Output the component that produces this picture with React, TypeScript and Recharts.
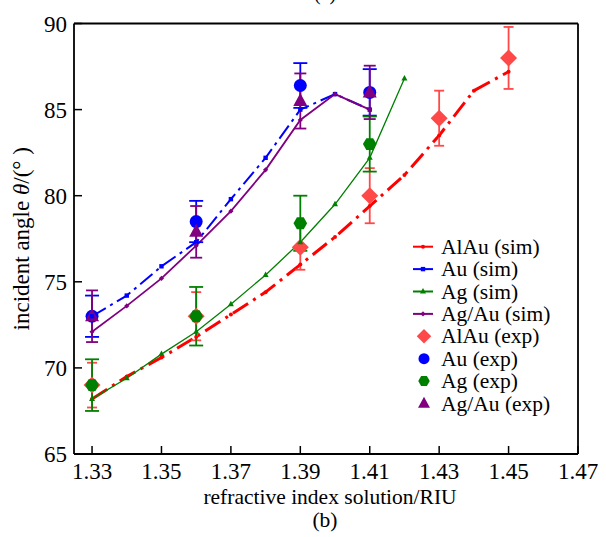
import React from 'react';
import { ComposedChart, Line, Scatter, ErrorBar, XAxis, YAxis, Legend, ReferenceLine } from 'recharts';

// refractive index steps for the simulated curves
const riuAlAuSim = [1.33, 1.34, 1.35, 1.36, 1.37, 1.38, 1.39, 1.4, 1.41, 1.42, 1.43, 1.44, 1.45];
const alAuSim = [68.2, 69.5, 70.6, 71.8, 73.1, 74.4, 76.0, 77.6, 79.4, 81.2, 83.5, 86.1, 87.2];
const riuAuSim = [1.33, 1.34, 1.35, 1.36, 1.37, 1.38, 1.39, 1.4, 1.41];
const auSim = [73.0, 74.2, 75.9, 77.3, 79.8, 82.2, 85.0, 85.9, 85.0];
const riuAgSim = [1.33, 1.34, 1.35, 1.36, 1.37, 1.38, 1.39, 1.4, 1.41, 1.42];
const agSim = [68.2, 69.4, 70.8, 72.1, 73.7, 75.4, 77.3, 79.5, 82.2, 86.8];
const riuAgAuSim = [1.33, 1.34, 1.35, 1.36, 1.37, 1.38, 1.39, 1.4, 1.41];
const agAuSim = [72.1, 73.6, 75.2, 77.1, 79.1, 81.5, 84.4, 85.9, 85.0];

// experimental points with error
const riuAlAuExp = [1.33, 1.36, 1.39, 1.41, 1.43, 1.45];
const alAuExp = [69.0, 73.0, 77.0, 80.0, 84.5, 88.0];
const alAuErr = [1.3, 1.4, 1.3, 1.6, 1.6, 1.8];
const riuExp = [1.33, 1.36, 1.39, 1.41];
const auExp = [73.0, 78.5, 86.4, 86.0];
const auErr = [1.2, 1.2, 1.3, 1.35];
const agExp = [69.0, 73.0, 78.4, 83.0];
const agErr = [1.5, 1.7, 1.6, 1.6];
const agAuExp = [73.0, 77.9, 85.5, 86.0];
const agAuErr = [1.5, 1.5, 1.6, 1.55];

const xTicks = [1.33, 1.35, 1.37, 1.39, 1.41, 1.43, 1.45, 1.47];
const yTicks = [65, 70, 75, 80, 85, 90];

const FONT = '"Liberation Serif", "Times New Roman", serif';
const textStyle = { fontFamily: FONT };

const toRows = (xs: number[], ys: number[], errs?: number[]) =>
    xs.map((x, i) => ({ x, y: ys[i], err: errs ? errs[i] : 0 }));

// --- small markers on the sim lines ---
function SmallMarker({ kind, cx, cy, color }: any) {
    if (cx == null || cy == null) return null;
    if (kind === 'square') return <rect x={cx - 2.2} y={cy - 2.2} width={4.4} height={4.4} fill={color} />;
    if (kind === 'tri') return <polygon points={`${cx},${cy - 3.5} ${cx + 3},${cy + 2} ${cx - 3},${cy + 2}`} fill={color} />;
    if (kind === 'diamond') return <polygon points={`${cx},${cy - 2.6} ${cx + 2.6},${cy} ${cx},${cy + 2.6} ${cx - 2.6},${cy}`} fill={color} />;
    return <circle cx={cx} cy={cy} r={2} fill={color} />;
}

// --- big markers for experimental points ---
function BigMarker({ kind, cx, cy, color }: any) {
    if (cx == null || cy == null) return null;
    if (kind === 'diamond') {
        const r = 8.5;
        return <polygon points={`${cx},${cy - r} ${cx + r},${cy} ${cx},${cy + r} ${cx - r},${cy}`} fill={color} />;
    }
    if (kind === 'hex') {
        const r = 6.8;
        const pts = [0, 1, 2, 3, 4, 5].map(k => {
            const a = (Math.PI / 3) * k;
            return `${cx + r * Math.cos(a)},${cy + r * Math.sin(a)}`;
        }).join(' ');
        return <polygon points={pts} fill={color} />;
    }
    if (kind === 'tri') return <polygon points={`${cx},${cy - 8} ${cx + 7},${cy + 5} ${cx - 7},${cy + 5}`} fill={color} />;
    return <circle cx={cx} cy={cy} r={6.5} fill={color} />;
}

const simSeries = [
    { name: 'AlAu (sim)', color: '#ff0000', dash: '18 6 3 6', width: 3, marker: 'dot', data: toRows(riuAlAuSim, alAuSim) },
    { name: 'Au (sim)', color: '#0000ff', dash: '16 5 3 5', width: 2, marker: 'square', data: toRows(riuAuSim, auSim) },
    { name: 'Ag (sim)', color: '#008000', dash: undefined, width: 1.3, marker: 'tri', data: toRows(riuAgSim, agSim) },
    { name: 'Ag/Au (sim)', color: '#800080', dash: undefined, width: 1.8, marker: 'diamond', data: toRows(riuAgAuSim, agAuSim) },
];

const expSeries = [
    { name: 'AlAu (exp)', color: '#ff4848', cap: 5, marker: 'diamond', data: toRows(riuAlAuExp, alAuExp, alAuErr) },
    { name: 'Au (exp)', color: '#0000ff', cap: 7, marker: 'circle', data: toRows(riuExp, auExp, auErr) },
    { name: 'Ag (exp)', color: '#008000', cap: 7, marker: 'hex', data: toRows(riuExp, agExp, agErr) },
    { name: 'Ag/Au (exp)', color: '#800080', cap: 6, marker: 'tri', data: toRows(riuExp, agAuExp, agAuErr) },
];

function XTick({ x, y, payload }: any) {
    return (
        <g>
            <line x1={x} y1={y} x2={x} y2={y - 8} stroke="#000" strokeWidth={1.5} />
            <text x={x} y={y + 25} textAnchor="middle" fontSize={23} style={textStyle} fill="#000">
                {Number(payload.value).toFixed(2)}
            </text>
        </g>
    );
}

function YTick({ x, y, payload }: any) {
    return (
        <g>
            <line x1={x} y1={y} x2={x + 8} y2={y} stroke="#000" strokeWidth={1.5} />
            <text x={x - 7} y={y + 8} textAnchor="end" fontSize={23} style={textStyle} fill="#000">
                {payload.value}
            </text>
        </g>
    );
}

function LegendBox() {
    const rows = [...simSeries.map(s => ({ ...s, sim: true })), ...expSeries.map(s => ({ ...s, sim: false }))];
    return (
        <svg width={170} height={190} style={{ overflow: 'visible' }}>
            {rows.map((r: any, i) => {
                const cy = 14.7 + i * 22.4;
                return (
                    <g key={r.name}>
                        {r.sim ? (
                            <g>
                                <line x1={8} y1={cy} x2={28} y2={cy} stroke={r.color} strokeWidth={2} />
                                <SmallMarker kind={r.marker} cx={18} cy={cy} color={r.color} />
                            </g>
                        ) : (
                            <g transform={`translate(19 ${cy}) scale(0.85) translate(-19 ${-cy})`}>
                                <BigMarker kind={r.marker} cx={19} cy={cy} color={r.color} />
                            </g>
                        )}
                        <text x={36} y={cy + 7} fontSize={21.5} style={textStyle} fill="#000">{r.name}</text>
                    </g>
                );
            })}
        </svg>
    );
}

export default function App() {
    return (
        <div style={{ position: 'absolute', left: 0, top: 0, width: 606, height: 537, background: '#fff' }}>
            <ComposedChart width={606} height={537} margin={{ top: 23.5, right: 28, bottom: 0, left: 0 }}>
                <XAxis
                    type="number"
                    dataKey="x"
                    domain={[1.3248, 1.47]}
                    ticks={xTicks}
                    allowDataOverflow
                    height={83}
                    tickSize={0}
                    tickMargin={0}
                    tick={<XTick />}
                    tickLine={false}
                    axisLine={{ stroke: '#000', strokeWidth: 1.8 }}
                    label={{
                        content: ({ viewBox }: any) => (
                            <text x={viewBox.x + viewBox.width / 2 + 4} y={viewBox.y + 50} textAnchor="middle" fontSize={21.5} style={textStyle} fill="#000">
                                refractive index solution/RIU
                            </text>
                        ),
                    }}
                />
                <YAxis
                    type="number"
                    dataKey="y"
                    domain={[65, 90]}
                    ticks={yTicks}
                    allowDataOverflow
                    width={74}
                    tickSize={0}
                    tickMargin={0}
                    tick={<YTick />}
                    tickLine={false}
                    axisLine={{ stroke: '#000', strokeWidth: 1.8 }}
                    label={{
                        content: ({ viewBox }: any) => {
                            const cx = 21;
                            const cy = viewBox.y + viewBox.height / 2;
                            return (
                                <text x={cx} y={cy} transform={`rotate(-90 ${cx} ${cy})`} textAnchor="middle" dominantBaseline="central" fontSize={23} style={textStyle} fill="#000">
                                    incident angle <tspan fontStyle="italic">θ</tspan>/(°  )
                                </text>
                            );
                        },
                    }}
                />
                <ReferenceLine y={90} stroke="#000" strokeWidth={1.8} />
                <ReferenceLine x={1.47} stroke="#000" strokeWidth={1.8} />

                {simSeries.map(s => (
                    <Line
                        key={s.name}
                        data={s.data}
                        dataKey="y"
                        name={s.name}
                        type="linear"
                        stroke={s.color}
                        strokeWidth={s.width}
                        strokeDasharray={s.dash}
                        dot={(p: any) => <SmallMarker key={`${s.name}-${p.index}`} kind={s.marker} cx={p.cx} cy={p.cy} color={s.color} />}
                        activeDot={false}
                        isAnimationActive={false}
                        legendType="none"
                    />
                ))}

                {expSeries.map(s => (
                    <Scatter
                        key={s.name}
                        data={s.data}
                        dataKey="y"
                        name={s.name}
                        fill={s.color}
                        shape={(p: any) => <BigMarker kind={s.marker} cx={p.cx} cy={p.cy} color={s.color} />}
                        isAnimationActive={false}
                        legendType="none"
                    >
                        <ErrorBar dataKey="err" direction="y" width={s.cap} stroke={s.color} strokeWidth={1.8} />
                    </Scatter>
                ))}

                <Legend
                    layout="vertical"
                    align="center"
                    verticalAlign="middle"
                    content={() => <LegendBox />}
                    wrapperStyle={{ position: 'absolute', left: 405, top: 232, width: 170, height: 190 }}
                />
            </ComposedChart>
            <div style={{ position: 'absolute', left: 0, width: 606, top: -19, textAlign: 'center', fontFamily: FONT, fontSize: 20, lineHeight: '24px', paddingLeft: 44, boxSizing: 'border-box' }}>
                (a)
            </div>
            <div style={{ position: 'absolute', left: 0, width: 606, top: 507, textAlign: 'center', fontFamily: FONT, fontSize: 21.5, lineHeight: '26px', paddingLeft: 44, boxSizing: 'border-box' }}>
                (b)
            </div>
        </div>
    );
}
